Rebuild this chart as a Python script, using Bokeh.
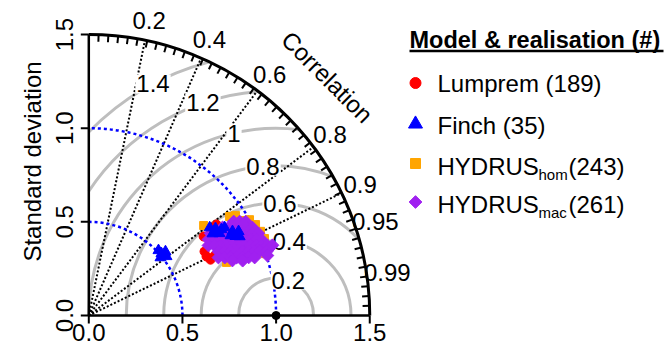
import numpy as np
from bokeh.plotting import figure
from bokeh.models import Range1d
from bokeh.embed import file_html
from bokeh.resources import INLINE
from bokeh.core.properties import value

FONT = "Liberation Sans"

# ---------------- data ----------------
ref_sd = 1.0
max_sd = 1.5

sd_ticks = [0.0, 0.5, 1.0, 1.5]
sd_tick_labels = ["0.0", "0.5", "1.0", "1.5"]

cor_label_values = [0.2, 0.4, 0.6, 0.8, 0.9, 0.95, 0.99]
cor_label_texts = ["0.2", "0.4", "0.6", "0.8", "0.9", "0.95", "0.99"]
cor_line_values = [0.2, 0.4, 0.6, 0.8, 0.9]
# minor ticks on the correlation arc (angle from the x axis, degrees)
cor_tick_deg = [2, 4, 6, 8, 10, 12, 14, 16, 18, 20, 22, 24, 26, 28, 30, 32, 34, 36, 38, 40, 42, 44,
                46, 48, 50, 52, 54, 56, 58, 60, 62, 64, 66, 68, 70, 72, 74, 76, 78, 80, 82, 84, 86, 88]

rms_levels = [0.2, 0.4, 0.6, 0.8, 1.0, 1.2, 1.4]
rms_label_texts = ["0.2", "0.4", "0.6", "0.8", "1", "1.2", "1.4"]
sd_arc_levels = [0.5, 1.0]

model_names = ["Lumprem", "Finch", "HYDRUS", "HYDRUS"]
model_subs = ["", "", "hom", "mac"]
model_counts = [189, 35, 243, 261]
model_colors = ["#FF0000", "#0000FF", "#FFA500", "#A020F0"]

lumprem_sd = [0.703, 0.715, 0.744, 0.706, 0.744, 0.837, 0.784]
lumprem_cor = [0.894, 0.909, 0.903, 0.875, 0.824, 0.814, 0.829]

finch_sd = [0.798, 0.821, 0.844, 0.792, 0.824, 0.864, 0.889, 0.917, 0.890, 0.869, 0.909,
            0.510, 0.509, 0.533, 0.492, 0.521]
finch_cor = [0.809, 0.824, 0.839, 0.834, 0.847, 0.839, 0.863, 0.872, 0.880, 0.871, 0.886,
             0.761, 0.731, 0.768, 0.778, 0.796]

hyd_hom_sd = [0.919, 0.948, 0.999, 1.014, 1.021, 1.024, 1.028, 1.000, 0.779, 0.788, 0.969, 0.986, 0.930]
hyd_hom_cor = [0.818, 0.826, 0.859, 0.878, 0.898, 0.916, 0.934, 0.944, 0.787, 0.933, 0.852, 0.919, 0.928]

hyd_mac_sd = [0.922, 0.949, 0.976,
              0.855, 0.882, 0.909, 0.937, 0.964, 0.992,
              0.784, 0.811, 0.838, 0.865, 0.893, 0.921, 0.949, 0.978, 1.006,
              0.757, 0.784, 0.812, 0.840, 0.868, 0.896, 0.925, 0.954, 0.983, 1.007,
              0.740, 0.768, 0.796, 0.825, 0.853, 0.882, 0.911, 0.941, 0.970, 0.995, 1.025, 1.050,
              0.772, 0.802, 0.831, 0.860, 0.889, 0.919, 0.949, 0.973, 1.009,
              0.758, 0.789, 0.818, 0.848, 0.878, 0.908, 0.938,
              0.821, 0.872, 1.006]
hyd_mac_cor = [0.839, 0.849, 0.858,
               0.835, 0.846, 0.856, 0.865, 0.873, 0.881,
               0.829, 0.842, 0.852, 0.862, 0.871, 0.880, 0.887, 0.894, 0.900,
               0.844, 0.856, 0.866, 0.875, 0.884, 0.892, 0.899, 0.905, 0.911, 0.915,
               0.863, 0.874, 0.883, 0.891, 0.899, 0.906, 0.912, 0.918, 0.923, 0.927, 0.931, 0.934,
               0.897, 0.904, 0.911, 0.917, 0.923, 0.928, 0.933, 0.936, 0.941,
               0.913, 0.920, 0.925, 0.931, 0.936, 0.940, 0.944,
               0.934, 0.942, 0.948]

# ---------------- layout ----------------
W, H = 668, 347
S = 187.3                 # pixels per unit of standard deviation
OX, OY = 88.3, 315.0      # canvas pixel of the origin


def X(px):
    return (px - OX) / S


def Y(py):
    return (OY - py) / S


p = figure(width=W, height=H,
           x_range=Range1d(X(0), X(W)), y_range=Range1d(Y(H), Y(0)),
           output_backend="svg", toolbar_location=None,
           x_axis_type=None, y_axis_type=None, min_border=0)
p.outline_line_color = None
p.background_fill_color = "white"
p.border_fill_color = "white"

txt = dict(text_font=value(FONT), text_font_size="24px", text_color="black")

# centred RMS difference arcs (clipped to the quadrant)
g = np.array(rms_levels)
c = (max_sd ** 2 - ref_sd ** 2 - g ** 2) / (2 * g * ref_sd)
starts = np.where(c < 1, np.arccos(np.clip(c, -1, 1)), 0.0)
ends = np.where(g > ref_sd, np.arccos(np.clip(-ref_sd / g, -1, 1)), np.pi)
p.arc(x=[ref_sd] * len(g), y=[0] * len(g), radius=g, start_angle=starts, end_angle=ends,
      line_color="#BEBEBE", line_width=3)

# correlation rays
cl = np.array(cor_line_values)
p.segment(x0=0, y0=0, x1=max_sd * cl, y1=max_sd * np.sqrt(1 - cl ** 2),
          line_color="black", line_width=2, line_dash="2 2")

# standard deviation arcs
p.arc(x=0, y=0, radius=sd_arc_levels, start_angle=0, end_angle=np.pi / 2,
      line_color="#0000FF", line_width=2.5, line_dash="3 3")

# RMS labels with white boxes
la = np.radians([71, 80, 88, 95, 103, 109, 118])
p.text(x=ref_sd + g * np.cos(la), y=g * np.sin(la), text=rms_label_texts,
       text_align="center", text_baseline="middle",
       background_fill_color="white", padding=1, **txt)

# outer arc and axis lines
p.arc(x=0, y=0, radius=max_sd, start_angle=0, end_angle=np.pi / 2,
      line_color="black", line_width=3)
p.segment(x0=[0, 0], y0=[0, 0], x1=[0, max_sd], y1=[max_sd, 0],
          line_color="black", line_width=2.5)

# correlation ticks on the outer arc (pointing inward)
a = np.radians(np.array(cor_tick_deg, dtype=float))
frac = 1 - 7 / (max_sd * S)
p.segment(x0=max_sd * np.cos(a), y0=max_sd * np.sin(a),
          x1=frac * max_sd * np.cos(a), y1=frac * max_sd * np.sin(a),
          line_color="black", line_width=2)

# sd axis ticks
tl = 8 / S
p.segment(x0=0, y0=sd_ticks, x1=-tl, y1=sd_ticks, line_color="black", line_width=2)
p.segment(x0=sd_ticks, y0=0, x1=sd_ticks, y1=-tl, line_color="black", line_width=2)

# axis tick labels and titles
p.text(x=X(63.5), y=sd_ticks, text=sd_tick_labels, angle=np.pi / 2,
       text_align="center", text_baseline="middle", **txt)
p.text(x=sd_ticks, y=Y(332), text=sd_tick_labels,
       text_align="center", text_baseline="middle", **txt)
p.text(x=[X(31.5)], y=[Y(161)], text=["Standard deviation"], angle=np.pi / 2,
       text_align="center", text_baseline="middle", **txt)

ca = np.arccos(np.array(cor_label_values))
p.text(x=1.61 * np.cos(ca), y=1.61 * np.sin(ca), text=cor_label_texts,
       text_align="center", text_baseline="middle", **txt)
p.text(x=[1.8 * np.cos(np.pi / 4)], y=[1.8 * np.sin(np.pi / 4)], text=["Correlation"],
       angle=-np.pi / 4, text_align="center", text_baseline="middle", **txt)


def polar_xy(sd, cor):
    sd = np.array(sd)
    cor = np.array(cor)
    return sd * cor, sd * np.sqrt(1 - cor ** 2)


# reference point
p.scatter(x=[ref_sd], y=[0], marker="circle", size=8, color="black")

# model points
x, y = polar_xy(lumprem_sd, lumprem_cor)
p.scatter(x=x, y=y, marker="circle", size=9, color=model_colors[0])
x, y = polar_xy(hyd_hom_sd, hyd_hom_cor)
p.scatter(x=x, y=y, marker="square", size=8, color=model_colors[2])
x, y = polar_xy(hyd_mac_sd, hyd_mac_cor)
p.scatter(x=x, y=y, marker="square", angle=np.pi / 4, size=9, color=model_colors[3])
x, y = polar_xy(finch_sd, finch_cor)
p.scatter(x=x, y=y, marker="triangle", size=11, color=model_colors[1])

# legend
p.text(x=[X(409)], y=[Y(39)], text=["Model & realisation (#)"], text_font_style="bold",
       text_align="left", text_baseline="middle",
       text_font=value(FONT), text_font_size="23.5px", text_color="black")
p.segment(x0=[X(409)], y0=[Y(50.5)], x1=[X(663)], y1=[Y(50.5)], line_color="black", line_width=2.5)

marker_y = [82.5, 123.5, 163.0, 201.5]
text_y = [82.7, 125.2, 166.2, 204.2]
leg_markers = ["circle", "triangle", "square", "square"]
leg_angles = [0, 0, 0, np.pi / 4]
leg_sizes = [11, 14, 10, 9]
for i in range(4):
    p.scatter(x=[X(415)], y=[Y(marker_y[i])], marker=leg_markers[i], angle=leg_angles[i],
              size=leg_sizes[i], color=model_colors[i])
    if model_subs[i]:
        p.text(x=[X(437)], y=[Y(text_y[i])], text=[model_names[i]],
               text_align="left", text_baseline="middle", **txt)
        p.text(x=[X(538)], y=[Y(text_y[i] + 8.2)], text=[model_subs[i]],
               text_align="left", text_baseline="middle",
               text_font=value(FONT), text_font_size="15px", text_color="black")
        p.text(x=[X(568)], y=[Y(text_y[i])], text=[f"({model_counts[i]})"],
               text_align="left", text_baseline="middle", **txt)
    else:
        p.text(x=[X(437)], y=[Y(text_y[i])], text=[f"{model_names[i]} ({model_counts[i]})"],
               text_align="left", text_baseline="middle", **txt)

open("out.html", "w").write(file_html(p, INLINE))
